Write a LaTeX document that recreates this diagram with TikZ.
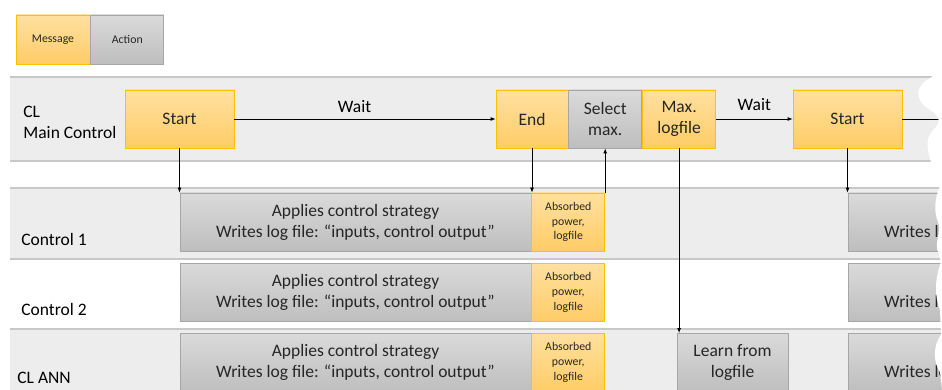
\documentclass[tikz,border=0pt]{standalone}
\usepackage{fontspec}
\setmainfont{Carlito}
\usetikzlibrary{positioning,arrows.meta}

\definecolor{msgtop}{RGB}{255,224,160}
\definecolor{msgbot}{RGB}{255,204,102}
\definecolor{msgline}{RGB}{255,192,0}
\definecolor{acttop}{RGB}{218,218,218}
\definecolor{actbot}{RGB}{190,190,190}
\definecolor{actline}{RGB}{166,166,166}
\definecolor{laneback}{RGB}{237,237,237}
\definecolor{laneline}{RGB}{200,200,200}
\definecolor{txt}{RGB}{38,38,38}

\tikzset{
  msg/.style={draw=msgline, line width=0.8pt, top color=msgtop, bottom color=msgbot,
    text=txt, inner sep=0pt, align=center, font=\fontsize{17.5}{21}\selectfont},
  act/.style={draw=actline, line width=0.8pt, top color=acttop, bottom color=actbot,
    text=txt, inner sep=0pt, align=center, font=\fontsize{17.5}{21}\selectfont},
  small/.style={font=\fontsize{11.8}{14.6}\selectfont},
  lanename/.style={anchor=west, align=left, inner sep=0pt, font=\fontsize{17.5}{21}\selectfont}
}

\begin{document}
\begin{tikzpicture}[x=1pt,y=-1pt,line width=0.8pt,>={Latex[length=5pt,width=4pt]}]
    \useasboundingbox (0,0) rectangle (942,390);
    \clip (0,0) rectangle (942,390);
    % lanes
    \fill[laneback] (10,77) rectangle (942,161);
    \fill[laneback] (10,188) rectangle (942,259);
    \fill[laneback] (10,330) rectangle (942,395);
    \foreach \y in {77,161,188,259,329}
        \draw[laneline, line width=1.5pt] (10,\y) -- (942,\y);
    \node[lanename] (lmain) at (23,122) {CL\\Main Control};
    \node[lanename] (lctrlA) at (21,239.5) {Control 1};
    \node[lanename] (lctrlB) at (21,309.5) {Control 2};
    \node[lanename] (lann) at (17,378) {CL ANN};
    % legend
    \node[msg, small, minimum width=74pt, minimum height=49pt] (legmsg) at (53,39.5) {Message};
    \node[act, small, minimum width=73pt, minimum height=49pt, right=0pt of legmsg] (legact) {Action};
    % main control
    \node[msg, minimum width=109pt, minimum height=58pt] (startA) at (179.5,119) {Start};
    \node[msg, minimum width=72pt, minimum height=58pt] (endA) at (532,119) {End};
    \node[act, minimum width=73pt, minimum height=58pt, right=0pt of endA] (selmax) {Select\\max.};
    \node[msg, minimum width=73pt, minimum height=58pt, right=0pt of selmax] (maxlog) {Max.\\logfile};
    \node[msg, minimum width=109pt, minimum height=58pt] (startB) at (847.5,119) {Start};
    % controls
    \foreach \n/\y in {1/222,2/292.5,3/362.5}{
        \node[act, minimum width=351pt, minimum height=58pt] (apply\n) at (355.5,\y)
            {Applies control strategy\\Writes log file: “inputs, control output”};
        \node[msg, small, minimum width=73pt, minimum height=58pt, right=0pt of apply\n] (absorb\n)
            {Absorbed\\power,\\logfile};
        \node[act, minimum width=351pt, minimum height=58pt] (applyB\n) at (1023.5,\y)
            {Applies control strategy\\Writes log file: “inputs, control output”};
    }
    \node[act, minimum width=111pt, minimum height=58pt] (learn) at (732.5,362.5) {Learn from\\logfile};
    % connectors
    \draw[->] (startA) -- node[above=3pt, pos=0.46, font=\fontsize{17.5}{21}\selectfont]{Wait} (endA);
    \draw[->] (maxlog) -- node[above=5pt, font=\fontsize{17.5}{21}\selectfont]{Wait} (startB);
    \coordinate (tear) at (940,119);
    \draw (startB) -- (tear);
    \draw[->] (startA.south) -- (startA.south |- apply1.north);
    \draw[->] (endA.south) -- (endA.south |- absorb1.north);
    \draw[->] (absorb1.north east) -- (absorb1.north east |- selmax.south);
    \draw[->] (maxlog.south) -- (maxlog.south |- learn.north);
    \draw[->] (startB.south) -- (startB.south |- applyB1.north);
    % torn edge
    \fill[white] (942,60) -- (932,60) -- (932,77) .. controls (914,86) and (914,100) .. (930,110)
        .. controls (942,117) and (940,124) .. (933,130) .. controls (924,140) and (928,152) .. (931,162)
        -- (931,175) -- (940,186) .. controls (934,200) and (934,212) .. (938,222)
        .. controls (942,232) and (934,242) .. (938,252) -- (941,262) .. controls (934,280) and (935,298) .. (940,310)
        -- (941,335) .. controls (933,345) and (933,362) .. (940,372) -- (942,390) -- cycle;
\end{tikzpicture}
\end{document}
